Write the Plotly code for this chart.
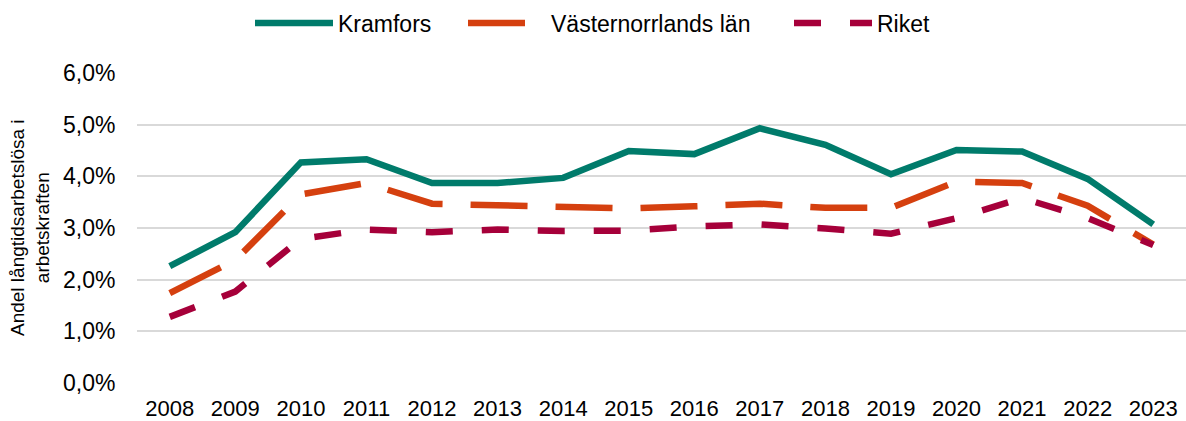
import plotly.graph_objects as go

years = [str(y) for y in range(2008, 2024)]
kramfors = [0.0226, 0.0292, 0.0427, 0.0433, 0.0387, 0.0387, 0.0397, 0.0449, 0.0443, 0.0493, 0.0461, 0.0404, 0.0451, 0.0448, 0.0395, 0.0307]
vasternorrland = [0.0174, 0.0238, 0.0365, 0.0387, 0.0347, 0.0344, 0.0342, 0.0338, 0.0342, 0.0347, 0.0339, 0.0339, 0.0390, 0.0387, 0.0343, 0.0268]
riket = [0.0128, 0.0177, 0.0279, 0.0297, 0.0292, 0.0297, 0.0294, 0.0295, 0.0303, 0.0307, 0.0299, 0.0289, 0.0319, 0.0358, 0.0319, 0.0267]
y_ticks = [0, 0.01, 0.02, 0.03, 0.04, 0.05, 0.06]
y_labels = ["0,0%", "1,0%", "2,0%", "3,0%", "4,0%", "5,0%", "6,0%"]

font = "Liberation Sans, Arial, sans-serif"

fig = go.Figure()
fig.add_trace(go.Scatter(x=years, y=kramfors, name="Kramfors", mode="lines",
                         line=dict(color="#007B6B", width=6.5), legend="legend"))
fig.add_trace(go.Scatter(x=years, y=vasternorrland, name="Västernorrlands län", mode="lines",
                         line=dict(color="#D5400F", width=6.5, dash="57px,28px"), legend="legend2"))
fig.add_trace(go.Scatter(x=years, y=riket, name="Riket", mode="lines",
                         line=dict(color="#A6003A", width=6.5, dash="27px,29px"), legend="legend3"))

leg_common = dict(orientation="h", xref="container", yref="container", y=1 - 23 / 421,
                  xanchor="left", yanchor="middle", font=dict(size=23, family=font),
                  itemwidth=78, bgcolor="rgba(0,0,0,0)", borderwidth=0)

fig.update_layout(
    width=1186, height=421,
    margin=dict(l=137, r=0, t=73, b=38, autoexpand=False),
    paper_bgcolor="white", plot_bgcolor="white",
    font=dict(family=font, size=23, color="#000000"),
    showlegend=True,
    legend=dict(x=250 / 1186, **leg_common),
    legend2=dict(x=463 / 1186, **leg_common),
    legend3=dict(x=789 / 1186, **leg_common),
    xaxis=dict(type="category", range=[-0.5, 15.5], showgrid=False, showline=False,
               zeroline=False, ticks="outside", ticklen=6, tickcolor="white",
               tickfont=dict(size=22), automargin=False),
    yaxis=dict(range=[0, 0.06], tickvals=y_ticks, ticktext=y_labels, showgrid=True,
               gridcolor="#D9D9D9", gridwidth=1.5, zeroline=False, showline=False,
               ticks="outside", ticklen=16, tickcolor="white", tickfont=dict(size=23),
               automargin=False),
    annotations=[dict(text="Andel långtidsarbetslösa i<br>arbetskraften", textangle=-90,
                      xref="paper", yref="paper", x=-0.102, y=0.5, xanchor="center",
                      yanchor="middle", showarrow=False, font=dict(size=19))],
)

fig.write_html("out.html", config={"displayModeBar": False},
               post_script="document.body.style.margin='0';document.body.style.overflow='hidden';")
